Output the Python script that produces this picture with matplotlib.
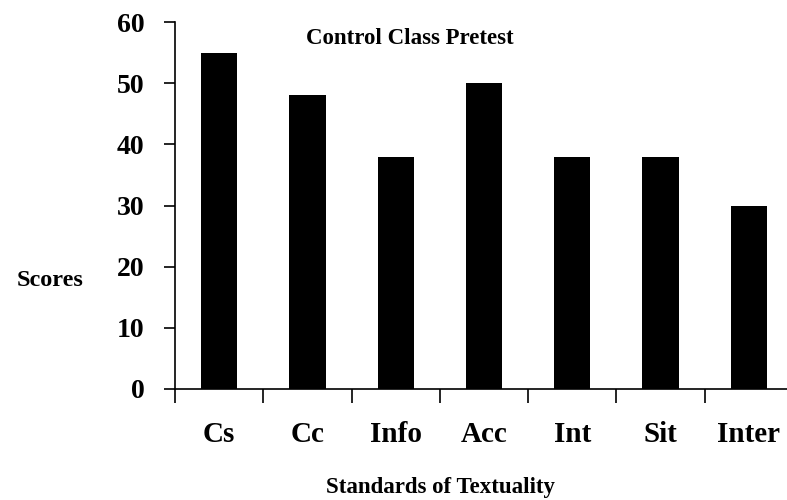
import matplotlib
matplotlib.use("Agg")
import matplotlib.pyplot as plt
import numpy as np

categories = ["Cs", "Cc", "Info", "Acc", "Int", "Sit", "Inter"]
scores = [55, 48, 38, 50, 38, 38, 30]
yticks = [0, 10, 20, 30, 40, 50, 60]

plt.rcParams['font.family'] = ['Liberation Serif', 'DejaVu Serif']
plt.rcParams['font.weight'] = 'bold'

fig = plt.figure(figsize=(7.87, 5.0), dpi=100)
ax = fig.add_axes([175/787, 111/500, 618/787, 367/500])

x = np.arange(len(categories))
ax.bar(x, scores, width=0.41, color='black')

ax.set_xlim(-0.5, len(categories) - 0.5)
ax.set_ylim(0, 60)
ax.set_yticks(yticks)
ax.set_yticklabels([str(v) for v in yticks], fontsize=20, fontweight='bold')
ax.tick_params(axis='y', direction='out', length=8, width=1.2, pad=14)

ax.set_xticks(x)
ax.set_xticklabels(categories, fontsize=21, fontweight='bold')
ax.tick_params(axis='x', which='major', length=0, pad=23)
ax.set_xticks(np.arange(-0.5, len(categories), 1.0), minor=True)
ax.tick_params(axis='x', which='minor', direction='out', length=10, width=1.2)

for s in ['top', 'right']:
    ax.spines[s].set_visible(False)
for s in ['left', 'bottom']:
    ax.spines[s].set_linewidth(1.2)

fig.text(410/787, 1 - 39/500, "Control Class Pretest", ha='center', va='center',
         fontsize=16.5, fontweight='bold')
fig.text(50/787, 1 - 281/500, "Scores", ha='center', va='center',
         fontsize=17.5, fontweight='bold')
fig.text(440/787, 1 - 487/500, "Standards of Textuality", ha='center', va='center',
         fontsize=16.5, fontweight='bold')

fig.savefig("out.png", dpi=100)
